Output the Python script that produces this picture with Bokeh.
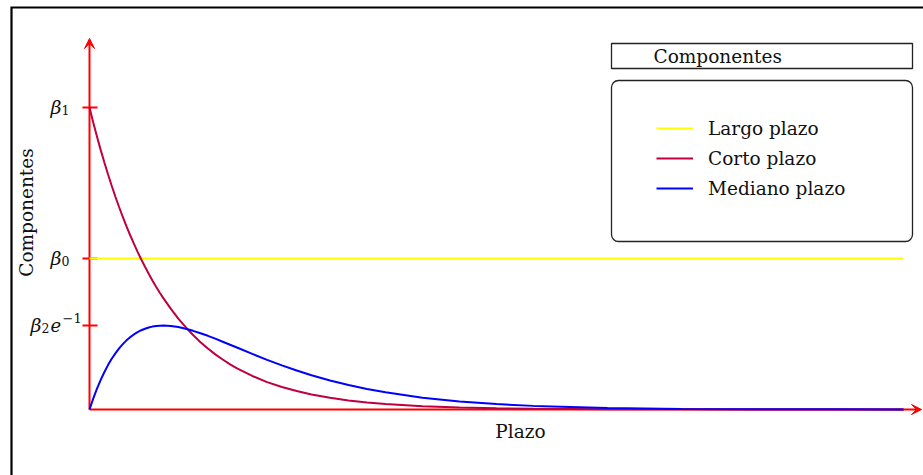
import math

from bokeh.core.properties import value
from bokeh.embed import file_html
from bokeh.models import Arrow, BoxAnnotation, Legend, LegendItem, Range1d, VeeHead
from bokeh.plotting import figure
from bokeh.resources import INLINE

# ---- data: Nelson-Siegel components against maturity (in units of lambda) ----
plazo = [0.00, 0.05, 0.10, 0.15, 0.20, 0.25, 0.30, 0.35, 0.40, 0.45, 0.50, 0.55,
         0.60, 0.65, 0.70, 0.75, 0.80, 0.85, 0.90, 0.95, 1.00, 1.10, 1.20, 1.30,
         1.40, 1.50, 1.60, 1.70, 1.80, 1.90, 2.00, 2.20, 2.40, 2.60, 2.80, 3.00,
         3.25, 3.50, 3.75, 4.00, 4.50, 5.00, 5.50, 6.00, 7.00, 8.00, 9.00, 10.0, 11.0]
corto = [2.000, 1.902, 1.810, 1.721, 1.637, 1.558, 1.482, 1.409, 1.341, 1.275,
         1.213, 1.154, 1.098, 1.044, 0.993, 0.945, 0.899, 0.855, 0.813, 0.773,
         0.736, 0.666, 0.602, 0.545, 0.493, 0.446, 0.404, 0.365, 0.331, 0.299,
         0.271, 0.222, 0.181, 0.149, 0.122, 0.100, 0.078, 0.060, 0.047, 0.037,
         0.022, 0.013, 0.008, 0.005, 0.002, 0.001, 0.000, 0.000, 0.000]
mediano = [0.000, 0.072, 0.137, 0.195, 0.247, 0.294, 0.336, 0.372, 0.405, 0.433,
           0.458, 0.479, 0.497, 0.512, 0.525, 0.535, 0.543, 0.549, 0.553, 0.555,
           0.556, 0.553, 0.546, 0.535, 0.521, 0.505, 0.488, 0.469, 0.449, 0.429,
           0.409, 0.368, 0.329, 0.292, 0.258, 0.227, 0.192, 0.162, 0.136, 0.114,
           0.078, 0.053, 0.036, 0.024, 0.010, 0.004, 0.002, 0.001, 0.000]
largo_x = [0, 11.0]
largo = [1.0, 1.0]

tick_values = [2.0, 1.0, 0.556]          # beta_1, beta_0, beta_2 * e^-1

YELLOW, PURPLE, BLUE, RED = "#FFFF00", "#BF0040", "#0000FF", "#FF0000"
FONT = "DejaVu Serif"
INK = "#111111"

# ---- canvas geometry: the plot frame spans the whole 923x475 canvas ----
W, H = 923, 475
X0_PX, X_UNIT = 89, 74       # pixel of plazo = 0, pixels per unit
Y0_PX, Y_UNIT = 409, 151     # pixel of value = 0, pixels per unit
LIFT = 6.5                   # raise free-standing texts by this many pixels


def sx(px):
    return (px - X0_PX) / X_UNIT


def sy(py):
    return (Y0_PX - py) / Y_UNIT


p = figure(width=W, height=H, min_border=0, toolbar_location=None,
           output_backend="svg", x_axis_location=None, y_axis_location=None,
           x_range=Range1d(sx(0), sx(W)), y_range=Range1d(sy(H), sy(0)))
p.grid.visible = False
p.outline_line_color = None
p.background_fill_color = "white"
p.border_fill_color = "white"

# outer frame (left and top edges visible)
p.line([sx(11), sx(11), sx(W + 10)], [sy(H + 10), sy(7), sy(7)],
       line_color="black", line_width=2.2, line_join="miter")

# axes with arrow tips, drawn beneath the curves
for xs, ys, xe, ye in [(0, 0, 0, sy(38)), (0, 0, sx(921), 0)]:
    p.add_layout(Arrow(x_start=xs, y_start=ys, x_end=xe, y_end=ye,
                       line_color=RED, line_width=2, level="underlay",
                       end=VeeHead(size=10, fill_color=RED, line_color=RED,
                                   line_width=1)))

# tick marks on the vertical axis
p.segment(x0=[sx(82)] * len(tick_values), x1=[sx(97)] * len(tick_values),
          y0=tick_values, y1=tick_values, line_color=RED, line_width=2)

# curves
r_largo = p.line(largo_x, largo, line_color=YELLOW, line_width=2)
r_corto = p.line(plazo, corto, line_color=PURPLE, line_width=2)
r_mediano = p.line(plazo, mediano, line_color=BLUE, line_width=2)

# tick labels (beta symbols with sub/superscripts)
b1, b0, b2 = tick_values
px = 1.0 / Y_UNIT
d_main = (6 - LIFT) * px
d_sub = (9 - LIFT) * px
d_sup = (-1 - LIFT) * px
p.text(x=[sx(50), sx(50), sx(30)], y=[b1 - d_main, b0 - d_main, b2 - d_main],
       text=["β", "β", "β"], text_font=value(FONT), text_font_style="italic",
       text_font_size="19px", text_baseline="alphabetic", text_align="left",
       text_color=INK)
p.text(x=[sx(61), sx(61), sx(41)], y=[b1 - d_sub, b0 - d_sub, b2 - d_sub],
       text=["1", "0", "2"], text_font=value(FONT), text_font_size="12.5px",
       text_baseline="alphabetic", text_align="left", text_color=INK)
p.text(x=[sx(50)], y=[b2 - d_main], text=["e"], text_font=value(FONT),
       text_font_style="italic", text_font_size="18px",
       text_baseline="alphabetic", text_align="left", text_color=INK)
p.text(x=[sx(62)], y=[b2 - d_sup], text=["−1"], text_font=value(FONT),
       text_font_size="13px", text_baseline="alphabetic", text_align="left",
       text_color=INK)

# axis titles
p.text(x=[sx(26)], y=[sy(212)], text=["Componentes"], angle=math.pi / 2,
       text_font=value(FONT), text_font_size="18.5px", text_align="center",
       text_baseline="middle", text_color=INK)
p.text(x=[sx(520)], y=[sy(437 - LIFT)], text=["Plazo"], text_font=value(FONT),
       text_font_size="18.5px", text_align="center", text_baseline="alphabetic",
       text_color=INK)

# legend: title box, rounded frame and entries
p.add_layout(BoxAnnotation(left=sx(611), right=sx(912), top=sy(43), bottom=sy(68),
                           fill_alpha=0.0, line_color="#222222", line_alpha=1.0,
                           line_width=1.3))
p.add_layout(BoxAnnotation(left=sx(611), right=sx(912), top=sy(80), bottom=sy(241),
                           fill_alpha=0.0, border_radius=7, line_color="#222222",
                           line_alpha=1.0, line_width=1.3))
p.text(x=[sx(653)], y=[sy(62 - LIFT)], text=["Componentes"], text_font=value(FONT),
       text_font_size="18.5px", text_align="left", text_baseline="alphabetic",
       text_color=INK)

legend = Legend(
    items=[LegendItem(label="Largo plazo", renderers=[r_largo]),
           LegendItem(label="Corto plazo", renderers=[r_corto]),
           LegendItem(label="Mediano plazo", renderers=[r_mediano])],
    location=(646, H - 209), glyph_width=37, glyph_height=22, label_height=22,
    spacing=8, padding=10, margin=0, label_standoff=15,
    label_text_font=FONT, label_text_font_size="18.5px", label_text_color=INK,
    border_line_alpha=0, background_fill_alpha=0)
p.add_layout(legend)

open("out.html", "w").write(file_html(p, INLINE))
